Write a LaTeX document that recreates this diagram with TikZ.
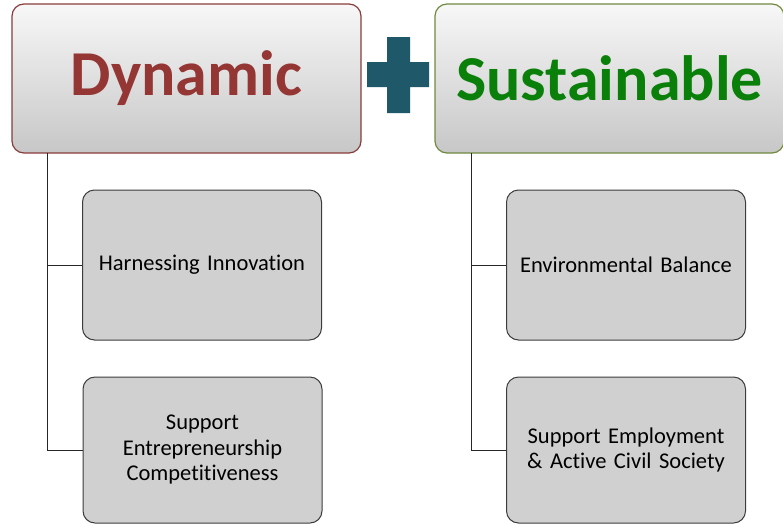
\documentclass[tikz,border=0pt]{standalone}
\usepackage{fontspec}
\setmainfont{Carlito}[Ligatures=NoCommon]
\usepackage{tikz}
\usetikzlibrary{positioning,shapes}
\usepackage{xcolor}
\definecolor{dynred}{RGB}{148,54,52}
\definecolor{dynborder}{RGB}{138,60,60}
\definecolor{susgreen}{RGB}{10,128,10}
\definecolor{susborder}{RGB}{113,137,63}
\definecolor{plusteal}{RGB}{31,88,104}
\definecolor{boxgray}{RGB}{208,208,208}
\definecolor{boxline}{RGB}{60,60,60}
\tikzstyle{header} = [rectangle, rounded corners=12pt, minimum width=349pt, minimum height=149pt, inner sep=0pt, top color=white!97!black, bottom color=black!22, line width=1.2pt, font=\fontsize{64}{70}\selectfont\bfseries]
\tikzstyle{itembox} = [rectangle, rounded corners=12pt, minimum width=239pt, inner sep=0pt, text width=225pt, align=center, draw=boxline, fill=boxgray, line width=1pt, font=\fontsize{22.5}{25.5}\selectfont]
\tikzstyle{branch} = [line width=1pt, color=black!85]

\begin{document}
\begin{tikzpicture}[x=1pt, y=-1pt]
\useasboundingbox (0,0) rectangle (783,525);
\clip (0,0) rectangle (783,525);
% Headers
\node[header, draw=dynborder, text=dynred] (hdyn) at (186.5,78.5) {Dynamic};
\node[header, draw=susborder, text=susgreen] (hsus) at (609.5,78.5) {Sustainable};

% Plus sign
\fill[plusteal] (387,37) -- (410,37) -- (410,62) -- (429,62) -- (429,87) -- (410,87)
  -- (410,113) -- (387,113) -- (387,87) -- (367,87) -- (367,62) -- (387,62) -- cycle;

% Boxes below
\node[itembox, minimum height=150pt] (b1) at (202,265) {Harnessing Innovation};
\node[itembox, minimum height=146pt] (b2) at (202.5,450) {Support\\Entrepreneurship\\Competitiveness};
\node[itembox, minimum height=150pt] (b3) at (626,265) {Environmental Balance};
\node[itembox, minimum height=146pt] (b4) at (626,450) {Support Employment\\\& Active Civil Society};

% Lines
\coordinate (ldyn) at (47,153);
\coordinate (lsus) at (471,153);
\draw[branch] (ldyn) |- (b1.west);
\draw[branch] (ldyn) |- (b2.west);
\draw[branch] (lsus) |- (b3.west);
\draw[branch] (lsus) |- (b4.west);
\end{tikzpicture}
\end{document}
